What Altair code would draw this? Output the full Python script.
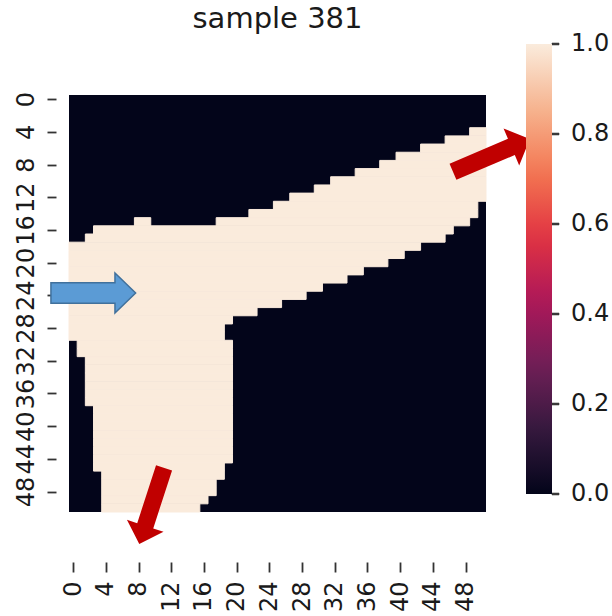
import altair as alt
import pandas as pd

# ---------------- data ----------------
N = 51                                   # 51 x 51 mask
tick_labels = list(range(0, 49, 4))      # 0, 4, ..., 48 on both axes
title_text = "sample 381"

# light cells (value 1) as runs: (row, first col, last col); all else 0
runs = [
    (4, 49, 50), (5, 46, 50), (6, 43, 50), (7, 40, 50), (8, 38, 50),
    (9, 35, 50), (10, 32, 50), (11, 30, 50), (12, 27, 50), (13, 25, 49),
    (14, 22, 49), (15, 8, 9), (15, 18, 48), (16, 3, 46), (17, 2, 45),
    (18, 0, 42), (19, 0, 40), (20, 0, 38), (21, 0, 35), (22, 0, 33),
    (23, 0, 30), (24, 0, 28), (25, 0, 25), (26, 0, 22), (27, 0, 19),
    (28, 0, 18), (29, 0, 18), (30, 1, 19), (31, 1, 19), (32, 2, 19),
    (33, 2, 19), (34, 2, 19), (35, 2, 19), (36, 2, 19), (37, 2, 19),
    (38, 3, 19), (39, 3, 19), (40, 3, 19), (41, 3, 19), (42, 3, 19),
    (43, 3, 19), (44, 3, 19), (45, 3, 18), (46, 4, 18), (47, 4, 17),
    (48, 4, 17), (49, 4, 16), (50, 4, 15),
]

# colorbar (seaborn "rocket")
cbar_values = [0.0, 0.2, 0.4, 0.6, 0.8, 1.0]
rocket_pos = [0, 1 / 7, 2 / 7, 3 / 7, 4 / 7, 5 / 7, 6 / 7, 1]
rocket_hex = ["#03051A", "#35193E", "#701F57", "#AD1759",
              "#E13342", "#F37651", "#F6B48F", "#FAEBDD"]

# arrows: centre in cell units, rotation (deg), length (px)
arrow_kind = ["blue", "red", "red"]
arrow_x = [2.97, 51.66, 10.11]
arrow_y = [24.22, 7.39, 50.26]
arrow_angle = [0, 337, 108]
arrow_len = [84.7, 83.5, 80.2]

# ---------------- layout ----------------
W = H = 417                      # plot area (px)
CB_X, CB_Y, CB_LEN, CB_W = 457, -51, 450, 26   # colour bar, relative to plot
CB_TICK = 7                      # colour-bar tick length (px)

# ---------------- tables ----------------
background = pd.DataFrame([{"col": 0, "col2": N, "row": 0, "row2": N, "v": 0}])
ones = pd.DataFrame([{"col": a, "col2": b + 1, "row": r, "row2": r + 1, "v": 1}
                     for r, a, b in runs])
# colour-bar tick marks, expressed in the heatmap's row / column units
cbar_ticks = pd.DataFrame({
    "cv": cbar_values,
    "ty": [(CB_Y + (1 - v) * CB_LEN) * N / H for v in cbar_values],
    "tx": [(CB_X + CB_W + CB_TICK / 2) * N / W for v in cbar_values],
})

arrows = pd.DataFrame({
    "kind": arrow_kind, "x": arrow_x, "y": arrow_y,
    "angle": arrow_angle, "size": [l * l for l in arrow_len],
})

tick_pos = [t + 0.5 for t in tick_labels]

FONT = "DejaVu Sans"
TXT = "#1a1a1a"

xs = alt.Scale(domain=[0, N], nice=False, zero=False)
ys = alt.Scale(domain=[0, N], nice=False, zero=False, reverse=True)
# end stops nudged outward a hair so the end labels stay centred on the bar ends
cs_domain = [rocket_pos[0] - 0.001] + rocket_pos[1:-1] + [rocket_pos[-1] + 0.001]
cs = alt.Scale(domain=cs_domain, range=rocket_hex, interpolate="rgb")

x_axis = alt.Axis(values=tick_pos, labelExpr="format(datum.value - 0.5, 'd')",
                  title=None, grid=False, domain=False, offset=50,
                  tickSize=10, tickWidth=1.8, tickColor="#333333",
                  labelAngle=270, labelAlign="right", labelBaseline="middle",
                  labelPadding=9, labelFontSize=24, labelFont=FONT,
                  labelColor=TXT, labelOverlap=False, labelBound=False,
                  labelFlush=False)
y_axis = alt.Axis(values=tick_pos, labelExpr="format(datum.value - 0.5, 'd')",
                  title=None, grid=False, domain=False, offset=13,
                  orient="left",
                  tickSize=9, tickWidth=1.8, tickColor="#333333",
                  labelAngle=270, labelAlign="center", labelBaseline="bottom",
                  labelPadding=9, labelFontSize=24, labelFont=FONT,
                  labelColor=TXT, labelOverlap=False, labelBound=False,
                  labelFlush=False)

legend = alt.Legend(
    type="gradient", title=None, orient="none", legendX=CB_X, legendY=CB_Y,
    direction="vertical", gradientLength=CB_LEN, gradientThickness=CB_W,
    gradientStrokeWidth=0, values=cbar_values, format=".1f",
    labelFontSize=24, labelFont=FONT, labelColor=TXT,
    labelOffset=19, labelBaseline="middle", labelOverlap=False, zindex=0)


def rect_layer(df, **mark_kw):
    return alt.Chart(df).mark_rect(**mark_kw).encode(
        x=alt.X("col:Q", scale=xs, axis=x_axis),
        x2="col2:Q",
        y=alt.Y("row:Q", scale=ys, axis=y_axis),
        y2="row2:Q",
        color=alt.Color("v:Q", scale=cs, legend=legend),
    )


base = rect_layer(background, strokeWidth=0)
light = rect_layer(ones, stroke=rocket_hex[-1], strokeWidth=1)

BLUE_PATH = ("M -1 -0.243 L 0.512 -0.243 L 0.512 -0.472 L 1 0 "
             "L 0.512 0.472 L 0.512 0.243 L -1 0.243 Z")
RED_PATH = ("M -1 -0.21 L 0.52 -0.21 L 0.52 -0.48 L 1 0 "
            "L 0.52 0.48 L 0.52 0.21 L -1 0.21 Z")
TICK_PATH = "M -1 -0.27 L 1 -0.27 L 1 0.27 L -1 0.27 Z"


def arrow_layer(kind, **mark_kw):
    return alt.Chart(arrows[arrows.kind == kind]).mark_point(
        filled=True, opacity=1, **mark_kw
    ).encode(
        x=alt.X("x:Q", scale=xs, axis=x_axis),
        y=alt.Y("y:Q", scale=ys, axis=y_axis),
        angle=alt.Angle("angle:Q", scale=None),
        size=alt.Size("size:Q", scale=None),
    )


blue = arrow_layer("blue", shape=BLUE_PATH, fill="#5B9BD5",
                   stroke="#41719C", strokeWidth=1.5)
red = arrow_layer("red", shape=RED_PATH, fill="#C00000", strokeWidth=0)

# small tick marks on the right edge of the colour bar
cb_ticks = alt.Chart(cbar_ticks).mark_point(
    shape=TICK_PATH, filled=True, fill="#333333", stroke="#333333",
    strokeWidth=0.6, opacity=1, size=CB_TICK * CB_TICK,
).encode(
    x=alt.X("tx:Q", scale=xs, axis=x_axis),
    y=alt.Y("ty:Q", scale=ys, axis=y_axis),
)

chart = alt.layer(base, light, blue, red, cb_ticks).properties(
    width=W, height=H,
    title=alt.TitleParams(title_text, fontSize=29, font=FONT,
                          fontWeight="normal", color=TXT, anchor="middle",
                          offset=8),
    autosize=alt.AutoSizeParams(type="none"),
    padding={"left": 69, "top": 95, "right": 126, "bottom": 104},
    background="white",
).configure_view(strokeWidth=0).configure_axis(labelOverlap=False)

chart.save("out.html", embed_options={"renderer": "svg", "actions": False})
